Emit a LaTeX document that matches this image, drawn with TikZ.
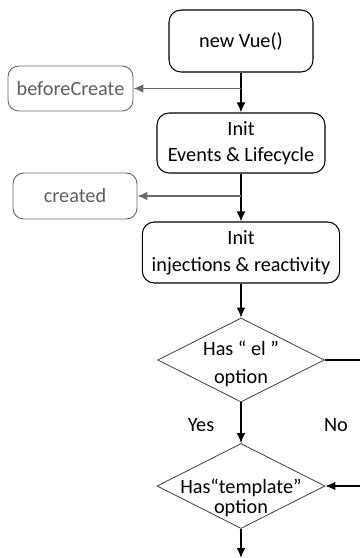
\documentclass[tikz,border=0pt]{standalone}
\usepackage{fontspec}
\setmainfont{Carlito}
\usepackage{tikz}
\usetikzlibrary{positioning}
\usetikzlibrary{shapes.geometric}
\usetikzlibrary{arrows.meta}

\definecolor{hookgray}{RGB}{95,95,95}
\definecolor{hookline}{RGB}{105,105,105}

% text of a diamond: no size of its own, shifted and spread by hand
\newcommand{\dtext}[4]{\smash{\makebox[0pt]{\raisebox{#1}{\begin{tabular}{@{}c@{}}#3\\[#2]#4\end{tabular}}}}}

\begin{document}
\begin{tikzpicture}[
    x=0.75pt, y=-0.75pt,
    font=\fontsize{15.2}{20}\selectfont,
    stepbox/.style={draw,line width=0.8pt,rounded corners=9pt,align=center,inner sep=0pt},
    hookbox/.style={draw=hookline,text=hookgray,line width=0.7pt,rounded corners=8pt,inner sep=0pt},
    decide/.style={draw=black!75,diamond,inner sep=0pt,line width=0.6pt},
    flow/.style={-{Latex[length=7.5pt,width=6.5pt]},line width=1pt},
    hook/.style={-{Latex[length=7.5pt,width=6.5pt]},line width=1pt,draw=hookline}
    ]
    \clip (0,0) rectangle (360,558);

    \node[stepbox, minimum width=108pt, minimum height=46.5pt] (newvue) at (241,41) {new Vue()};
    \node[stepbox, minimum width=126pt, minimum height=45pt] (events) at (241,143) {Init\\Events \& Lifecycle};
    \node[stepbox, minimum width=148pt, minimum height=45.75pt] (inject) at (241,252.5) {Init\\injections \& reactivity};
    \node[decide, minimum width=125pt, minimum height=63pt] (hasel) at (241,360) {\dtext{-6.75pt}{1.5pt}{Has “ el ”}{option}};
    \node[decide, minimum width=126pt, minimum height=63.75pt] (hastpl) at (241,486) {\dtext{-12.75pt}{-4.75pt}{Has“template”}{option}};

    \node[hookbox, minimum width=93.75pt, minimum height=33.75pt] (before) at (70.5,88.5) {beforeCreate};
    \node[hookbox, minimum width=93pt, minimum height=34.5pt] (created) at (75,196) {created};

    \node (yes) at (201,425) {Yes};
    \node (no) at (336,425) {No};
    \coordinate (rim) at (370,0);
    \coordinate (bottom) at (241,558);

    \draw[flow] (newvue) -- (events);
    \draw[flow] (events) -- (inject);
    \draw[flow] (inject) -- (hasel);
    \draw[flow] (hasel) -- (hastpl);
    \draw[flow] (hastpl) -- (bottom);
    \draw[line width=1pt] (hasel.east) -- (hasel.east -| rim);
    \draw[flow] (hastpl.east -| rim) -- (hastpl.east);

    \draw[hook] (newvue.south |- before.east) -- (before.east);
    \draw[hook] (events.south |- created.east) -- (created.east);

\end{tikzpicture}
\end{document}
